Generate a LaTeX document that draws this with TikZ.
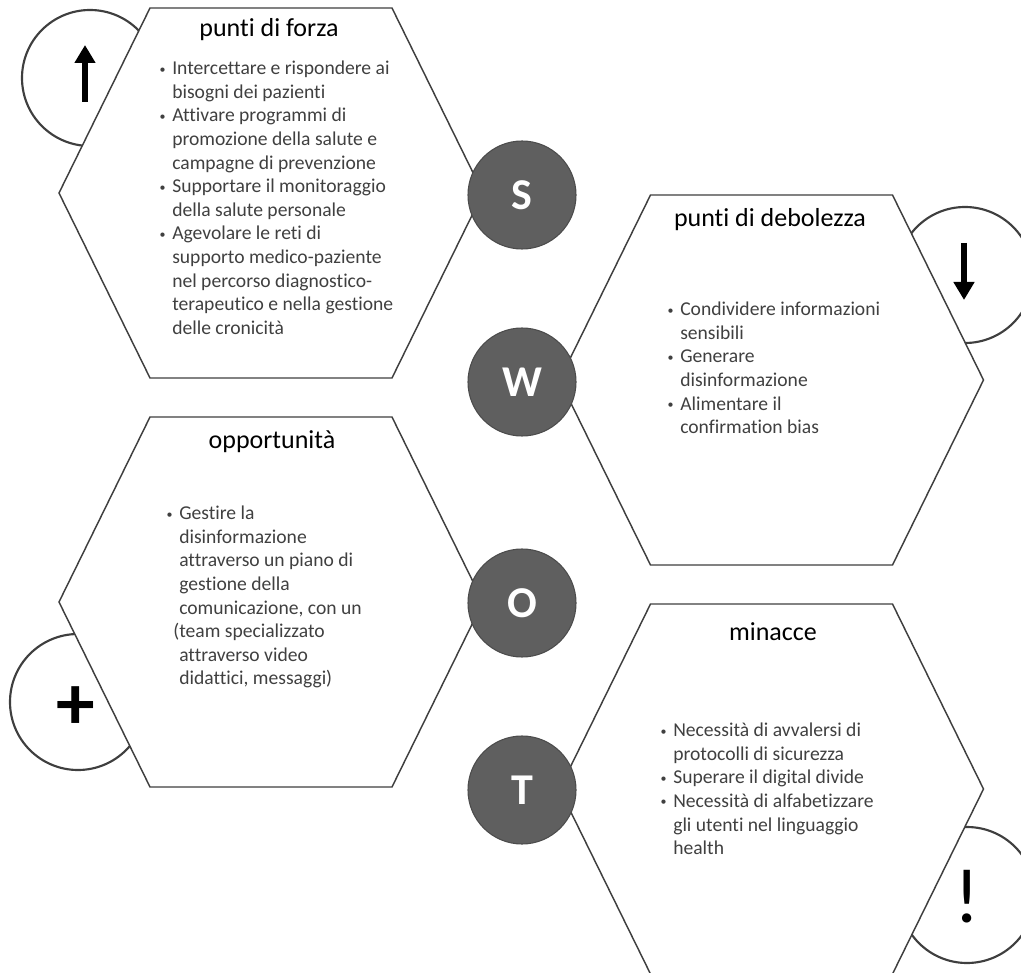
\documentclass[tikz,border=0pt]{standalone}
\usepackage{fontspec}
\setmainfont{Carlito}[Ligatures=NoCommon]
\usetikzlibrary{arrows.meta,calc}
\definecolor{linegray}{HTML}{3F3F3F}
\definecolor{discgray}{HTML}{5F5F5F}
\definecolor{textgray}{HTML}{404040}
\newcommand\bl{\strut\llap{\raisebox{1.2pt}{\fontsize{9}{9}\selectfont\textbullet}\hspace{5pt}}}

\begin{document}
\begin{tikzpicture}[x=.75pt,y=-.75pt,
  hexa/.style={draw=linegray,line width=1.1pt,fill=white},
  ring/.style={circle,draw=linegray,line width=1.6pt,fill=white,minimum size=102pt,inner sep=0},
  disc/.style={circle,fill=discgray,draw=discgray!80!black,line width=.8pt,minimum size=81pt,inner sep=0,text=white,font=\fontsize{33}{33}\selectfont\bfseries},
  title/.style={font=\fontsize{19.5}{23}\selectfont},
  items/.style={anchor=north west,align=left,inner sep=0,text=textgray,font=\fontsize{14.7}{17.7}\selectfont},
  sign/.style={inner sep=0,font=\fontsize{58}{58}\selectfont},
  fat/.style={line width=5pt,-{Triangle[length=13.5pt,width=15pt]}}]
\useasboundingbox(0,0)rectangle(1021,973);
% rings behind the hexagons
\node[ring](up)at(90,78){};\node[ring](down)at(965,275){};
\node[ring](plus)at(78,702){};\node[ring](warn)at(967,895){};
% hexagons
\coordinate(h1)at(271,193);\coordinate(h2)at(771.5,380);\coordinate(h3)at(271,602);\coordinate(h4)at(771.5,789);
\foreach\h in{h1,h2,h3,h4}\draw[hexa]($(\h)+(-121,-185)$)--($(\h)+(121,-185)$)--($(\h)+(212,0)$)--($(\h)+(121,185)$)--($(\h)+(-121,185)$)--($(\h)+(-212,0)$)--cycle;
% signs in the rings
\draw[fat]($(up)+(-5,24)$)--($(up)+(-5,-33)$);
\draw[fat]($(down)+(-1,-32)$)--($(down)+(-1,25)$);
\node[sign,font=\fontsize{58}{58}\selectfont\bfseries](plussign)at($(plus)+(-2,6)$){+};
\node[sign](bang)at($(warn)+(0,2)$){!};
% letters
\node[disc](s)at(522,195){S};\node[disc](w)at(522,382){W};
\node[disc](o)at(522,603){O};\node[disc](t)at(522,790){T};
% titles
\node[title](tf)at(269,30){punti di forza};
\node[title](td)at(770,220){punti di debolezza};
\node[title](to)at(272,442){opportunità};
\node[title](tm)at(773,632){minacce};
% lists
\node[items](lf)at(172,58){\bl Intercettare e rispondere ai\\bisogni dei pazienti\\
\bl Attivare programmi di\\promozione della salute e\\campagne di prevenzione\\
\bl Supportare il monitoraggio\\della salute personale\\
\bl Agevolare le reti di\\supporto medico-paziente\\nel percorso diagnostico-\\terapeutico e nella gestione\\delle cronicità};
\node[items](ld)at(680,299){\bl Condividere informazioni\\sensibili\\
\bl Generare\\disinformazione\\
\bl Alimentare il\\confirmation bias};
\node[items](lo)at(179,503){\bl Gestire la\\disinformazione\\attraverso un piano di\\gestione della\\comunicazione, con un\\
\llap{(}team specializzato\\attraverso video\\didattici, messaggi)};
\node[items](lm)at(673,720){\bl Necessità di avvalersi di\\protocolli di sicurezza\\
\bl Superare il digital divide\\
\bl Necessità di alfabetizzare\\gli utenti nel linguaggio\\health};
\end{tikzpicture}
\end{document}
